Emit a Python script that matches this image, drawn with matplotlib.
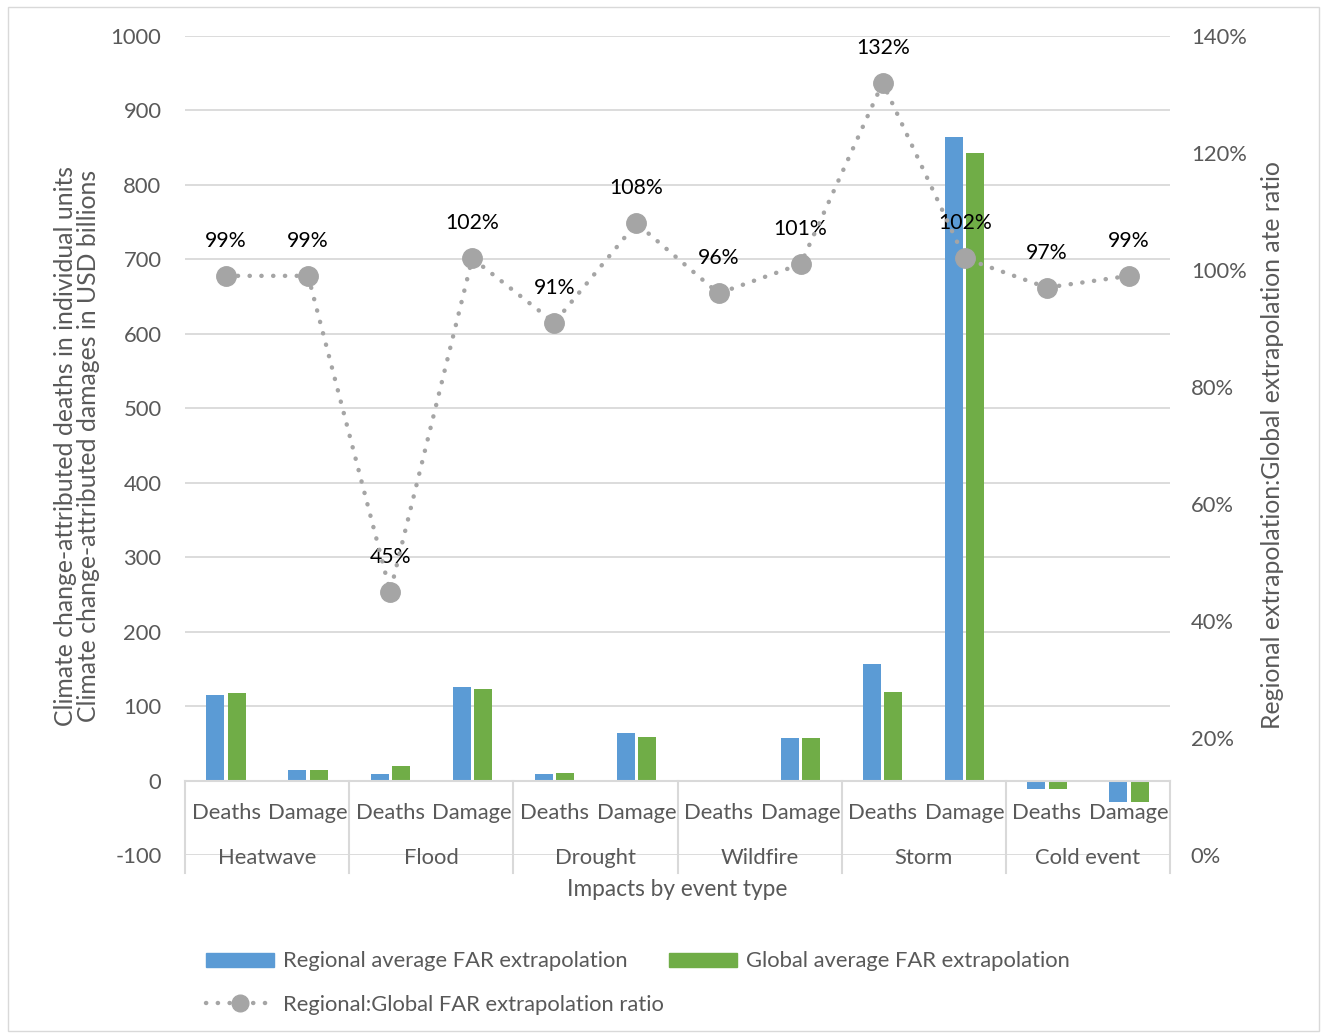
import matplotlib
matplotlib.use("Agg")
import matplotlib.pyplot as plt
from matplotlib.patches import Rectangle, Patch
from matplotlib.lines import Line2D
from matplotlib.ticker import FuncFormatter, MultipleLocator
import numpy as np

plt.rcParams['font.family'] = ['Lato', 'DejaVu Sans']
plt.rcParams['axes.unicode_minus'] = False

events = ["Heatwave", "Flood", "Drought", "Wildfire", "Storm", "Cold event"]
impacts = ["Deaths", "Damage"]
regional = [115, 14, 9, 126, 9, 64, 0.5, 57, 157, 864, -11, -29]
global_ = [117, 14, 20, 123, 10, 58, 0.5, 57, 119, 843, -11, -29]
ratio = [0.99, 0.99, 0.45, 1.02, 0.91, 1.08, 0.96, 1.01, 1.32, 1.02, 0.97, 0.99]
ratio_labels = ["99%", "99%", "45%", "102%", "91%", "108%", "96%", "101%", "132%", "102%", "97%", "99%"]

blue = "#5B9BD5"
green = "#70AD47"
gray = "#A5A5A5"
grid = "#D9D9D9"
tcol = "#595959"
fs = 15.8
dot = (0, (0.05, 2.6))

fig = plt.figure(figsize=(13.27, 10.35), dpi=100)
fig.patches.append(Rectangle((0.006, 0.004), 0.988, 0.989, transform=fig.transFigure,
                             fill=False, edgecolor=grid, lw=1))
ax = fig.add_axes([185/1327, 1-855/1035, (1170-185)/1327, (855-36)/1035])
ax2 = ax.twinx()

n = len(regional)
x = np.arange(n)
w = 0.22
off = 0.13
ax.bar(x - off, regional, w, color=blue, zorder=3)
ax.bar(x + off, global_, w, color=green, zorder=3)

ax.set_xlim(-0.5, n - 0.5)
ax.set_ylim(-100, 1000)
ax.yaxis.set_major_locator(MultipleLocator(100))
ax.grid(axis='y', color=grid, lw=1.3, zorder=0)
ax.set_axisbelow(True)
for s in ax.spines.values():
    s.set_visible(False)
for s in ax2.spines.values():
    s.set_visible(False)
ax.tick_params(axis='both', length=0, labelsize=fs, labelcolor=tcol)
ax.tick_params(axis='y', pad=17)
ax.set_xticks([])

# zero axis line and category dividers
ax.plot([-0.5, n - 0.5], [0, 0], color=grid, lw=1.5, zorder=4, clip_on=False)
for b in np.arange(-0.5, n, 2):
    ax.plot([b, b], [0, -124], color=grid, lw=1.5, clip_on=False, zorder=4)
for i in range(n):
    ax.text(x[i], -43, impacts[i % 2], ha='center', va='center', fontsize=fs, color=tcol)
for j, ev in enumerate(events):
    ax.text(2*j + 0.5, -104, ev, ha='center', va='center', fontsize=fs, color=tcol)
ax.text((n - 1) / 2, -147, "Impacts by event type", ha='center', va='center',
        fontsize=fs + 0.5, color=tcol)

ax.set_ylabel("Climate change-attributed deaths in individual units\n"
              "Climate change-attributed damages in USD billions",
              fontsize=17.8, color=tcol, labelpad=8, linespacing=0.95)

ax2.set_ylim(0, 1.4)
ax2.yaxis.set_major_locator(MultipleLocator(0.2))
ax2.yaxis.set_major_formatter(FuncFormatter(lambda v, p: f"{v*100:.0f}%"))
ax2.tick_params(axis='y', length=0, labelsize=fs, labelcolor=tcol, pad=15)
ax2.plot(x, ratio, color=gray, lw=3.2, ls=dot, dash_capstyle='round',
         marker='o', ms=14, mfc=gray, mec=gray, zorder=5)
for xi, r, lab in zip(x, ratio, ratio_labels):
    ax2.annotate(lab, (xi, r), xytext=(0, 35), textcoords='offset pixels',
                 ha='center', va='center', fontsize=fs - 0.5, color='black')
ax2.set_ylabel("Regional extrapolation:Global extrapolation ate ratio",
               fontsize=17.8, color=tcol, labelpad=10)

handles = [Patch(color=blue, label="Regional average FAR extrapolation"),
           Line2D([0], [0], color=gray, lw=3.2, ls=dot, dash_capstyle='round',
                  marker='o', ms=12, mfc=gray, mec=gray, label="Regional:Global FAR extrapolation ratio"),
           Patch(color=green, label="Global average FAR extrapolation")]
fig.legend(handles=handles, loc='center left', bbox_to_anchor=(186/1327, 1-983/1035),
           ncol=2, frameon=False, fontsize=fs, labelcolor=tcol, handlelength=3.1,
           handleheight=0.6, columnspacing=0.25, labelspacing=1.05, handletextpad=0.4)

fig.savefig("out.png", dpi=100)
